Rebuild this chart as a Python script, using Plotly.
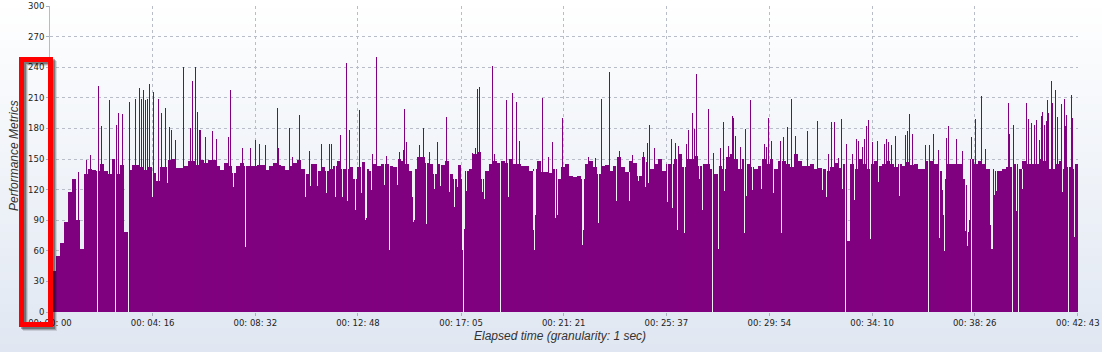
import plotly.graph_objects as go

# ---------------- data ----------------
tick_labels = ["00: 00: 00", "00: 04: 16", "00: 08: 32", "00: 12: 48", "00: 17: 05",
               "00: 21: 21", "00: 25: 37", "00: 29: 54", "00: 34: 10", "00: 38: 26",
               "00: 42: 43"]
y_ticks = [0, 30, 60, 90, 120, 150, 180, 210, 240, 270, 300]

base_step = 10  # seconds between base samples
base_values = [
    28, 40, 55, 68, 88, 118, 130, 90, 62, 135,
    140, 139, 138, 145, 138, 135, 150, 135, 144, 78,
    139, 144, 144, 142, 139, 142, 136, 128, 142, 142,
    149, 150, 141, 141, 143, 148, 148, 144, 149, 146,
    149, 149, 143, 139, 146, 143, 136, 143, 146, 143,
    143, 143, 144, 144, 139, 143, 146, 144, 143, 139,
    143, 146, 149,
    140, 135, 145, 145, 138, 142, 138, 140, 143, 148,
    140, 140, 142, 130, 142, 147, 140, 138, 145, 143,
    145, 145, 143, 142, 150, 148, 145, 138, 140, 152,
    152, 146, 145, 135, 145, 144, 148, 135, 130, 144,
    130, 138, 140, 155, 157, 130, 138, 145, 148, 146,
    148, 146, 150, 145, 145, 143, 143, 138, 140, 148,
    137, 137, 136, 140, 130,
    142, 145, 133, 132, 133, 130, 145, 148, 142, 135,
    143, 144, 138, 143, 152, 142, 137, 148, 146, 133,
    152, 147, 140, 145, 150, 138, 145, 145, 150, 155,
    142, 150, 150, 153, 143, 145, 145, 140, 135, 143,
    140, 152, 155, 150, 140, 150, 145, 142, 140, 143,
    150, 145, 150, 140, 148, 148, 145, 142, 155, 148,
    143, 143, 145, 140,
    141, 140, 138, 142, 146, 141, 145, 70, 145, 140,
    150, 145, 140, 145, 148, 143, 145, 148, 145, 142,
    145, 143, 147, 144, 145, 140, 140, 148, 148, 145,
    138, 130, 145, 145, 145, 145, 130, 125, 150, 145,
    148, 145, 140, 140, 138, 138, 140, 142, 142, 145,
    140, 148, 145, 145, 145, 150, 148, 140, 140, 145,
    148, 140, 142, 140, 145,
]

spike_times = [
    71, 91, 100, 121, 129, 148, 166, 170, 181, 198, 214, 223, 229, 233, 238, 243, 249,
    258, 271, 278, 287, 298, 303, 312, 333, 351, 356, 364, 367, 374, 387, 406, 416, 445,
    451, 479, 500, 513, 522, 537, 567, 569, 598, 605, 622,
    647, 676, 697, 703, 724, 739, 748, 771, 804, 814, 839, 871, 882, 885, 889, 921, 931,
    946, 967, 988, 1054, 1061, 1065, 1072, 1103, 1109, 1138, 1153, 1164, 1170, 1228,
    1242, 1252,
    1277, 1342, 1360, 1375, 1395, 1421, 1452, 1480, 1490, 1495, 1507, 1549, 1559, 1568,
    1588, 1593, 1603, 1608, 1613, 1643, 1654, 1672, 1679, 1691, 1701, 1704, 1709, 1721,
    1734, 1746, 1782, 1787, 1792, 1800, 1822, 1829, 1840, 1850, 1858, 1888, 1915,
    1941, 1949, 1957, 1967, 1973, 1986, 2000, 2010, 2017, 2025, 2032, 2037, 2042, 2050,
    2063, 2081, 2086, 2091, 2098, 2108, 2133, 2138, 2143, 2150, 2183, 2193, 2203, 2215,
    2235, 2240, 2260, 2275, 2299, 2307, 2322, 2324, 2334, 2390, 2392, 2402, 2435, 2440,
    2447, 2455, 2460, 2467, 2472, 2474, 2479, 2485, 2487, 2489, 2497, 2499, 2507, 2512,
    2522, 2529, 2532, 2534, 2547, 2549,
]
spike_values = [
    137, 149, 154, 222, 182, 208, 183, 195, 194, 206, 209, 220, 209, 218, 208, 209, 224,
    216, 209, 195, 200, 181, 178, 169, 240, 180, 226, 240, 196, 178, 172, 177, 170, 172,
    218, 161, 161, 169, 165, 164, 200, 161, 180, 152, 193,
    158, 165, 165, 165, 174, 244, 178, 198, 155, 250, 153, 157, 159, 199, 167, 164, 180,
    157, 167, 191, 156, 161, 219, 221, 241, 155, 208, 215, 206, 168, 210,
    152, 167,
    190, 152, 151, 209, 235, 158, 154, 157, 166, 183, 161, 170, 166, 163,
    165, 178, 195, 179, 233, 199, 156, 161, 186, 163, 192, 190, 173, 162,
    179, 208, 165, 162, 190, 168, 168, 172, 181, 209, 173, 177, 187,
    155, 186, 186, 151, 189, 165, 155, 170, 168, 162, 170, 182, 188, 167,
    168, 165, 170, 167, 164, 173, 174, 177, 194, 175, 164, 164, 175, 159,
    171, 182, 170, 158, 172, 189, 184, 212, 160, 205, 175, 183, 205, 189,
    185, 183, 188, 169, 192, 196, 183, 187, 208, 195, 226, 205, 218, 191,
    204, 209, 182, 193, 213, 190,
]

dip_times = [
    118, 164, 195, 255, 293, 457, 488,
    638, 650, 667, 689, 713, 729, 741, 761, 776, 786, 788, 790, 801, 835, 846, 866, 903,
    906, 908, 938, 958, 973, 997, 1008, 1015, 1028, 1031, 1033, 1039, 1079, 1083, 1123,
    1144, 1205, 1208, 1210, 1261, 1266,
    1328, 1330, 1367, 1412, 1444, 1467, 1485, 1493, 1541, 1552, 1565, 1583, 1619, 1627,
    1652, 1667, 1682, 1731, 1736, 1751, 1774, 1805, 1824,
    1926, 1936, 1976, 1983, 2007, 2047, 2066, 2118, 2190, 2218, 2225, 2228, 2230, 2284,
    2287, 2289, 2291, 2293, 2297, 2345, 2347, 2349, 2351, 2355, 2360, 2400, 2410, 2415,
    2425, 2524, 2539, 2554,
]
dip_values = [
    0, 0, 0, 113, 126, 123, 64,
    113, 124, 124, 117, 113, 113, 109, 100, 117, 90, 92, 98, 120, 125, 61, 125, 113,
    88, 90, 86, 121, 124, 118, 103, 123, 61, 0, 81, 119, 118, 111, 0,
    113, 80, 61, 95, 92, 95,
    66, 80, 87, 109, 109, 128, 123, 126, 108, 102, 80, 77, 130, 100,
    0, 62, 119, 77, 114, 120, 121, 117, 77,
    120, 113, 121, 0, 110, 72, 127, 114, 0, 73, 120, 95, 60, 79,
    106, 65, 78, 90, 0, 85, 70, 62, 75, 115, 119, 0, 99, 0,
    121, 118, 0, 74,
]

# ---------------- derived positions ----------------
def to_sec(lbl):
    h, m, s = [int(p.strip()) for p in lbl.split(":")]
    return h * 3600 + m * 60 + s

tick_vals = [to_sec(l) for l in tick_labels]
t_end = tick_vals[-1]
base_times = [i * base_step for i in range(len(base_values))]

dip_x, dip_base, dip_h = [], [], []
for t, v in zip(dip_times, dip_values):
    idx = min(int(round(t / base_step)), len(base_values) - 1)
    top = base_values[idx]
    if top > v:
        dip_x.append(t)
        dip_base.append(v)
        dip_h.append(top - v)

# alpha slightly below 1 makes plotly snap bar edges to whole pixels
PURPLE = "rgba(128,0,128,0.995)"

fig = go.Figure()
fig.add_trace(go.Bar(x=base_times, y=base_values, width=base_step,
                     marker=dict(color=PURPLE, line=dict(width=0)), hoverinfo="skip"))
fig.add_trace(go.Bar(x=spike_times, y=spike_values, width=2.6,
                     marker=dict(color=PURPLE, line=dict(width=0)), hoverinfo="skip"))
fig.add_trace(go.Bar(x=dip_x, y=dip_h, base=dip_base, width=2.6,
                     marker=dict(color="rgba(242,242,248,0.995)", line=dict(width=0)),
                     hoverinfo="skip"))

# ---------------- layout / styling ----------------
W, H = 1102, 352
L, R, T, B = 50, 24, 6, 40
pw, ph = W - L - R, H - T - B

def px_x(p):
    return (p - L) / pw

def px_y(p):
    return (H - B - p) / ph

shapes = []
# vertical background gradient (white -> light blue-grey)
N = 44
c0 = (255, 255, 255)
c1 = (224, 231, 242)
for i in range(N):
    f = (i + 0.5) / N
    col = tuple(int(round(c0[k] + (c1[k] - c0[k]) * f)) for k in range(3))
    y0p = i * H / N
    y1p = (i + 1) * H / N + 0.6
    shapes.append(dict(type="rect", xref="paper", yref="paper", layer="below",
                       x0=px_x(0), x1=px_x(W), y0=px_y(y1p), y1=px_y(y0p),
                       fillcolor="rgb(%d,%d,%d)" % col, line=dict(width=0)))

# red highlight frame with soft shadow
for off, alpha in [(4, 0.12), (3, 0.2), (2, 0.3)]:
    shapes.append(dict(type="rect", xref="paper", yref="paper", layer="above",
                       x0=px_x(21.5 + off), x1=px_x(50.5 + off),
                       y0=px_y(324.5 + off), y1=px_y(59.5 + off),
                       line=dict(color="rgba(0,0,0,%s)" % alpha, width=5)))
shapes.append(dict(type="rect", xref="paper", yref="paper", layer="above",
                   x0=px_x(21.5), x1=px_x(50.5), y0=px_y(324.5), y1=px_y(59.5),
                   line=dict(color="#ff0000", width=5)))

tickfont = dict(family="DejaVu Sans", size=8.5, color="#222222")
gridc = "#b9bdc8"

fig.update_layout(
    width=W, height=H,
    margin=dict(l=L, r=R, t=T, b=B, pad=0, autoexpand=False),
    paper_bgcolor="#ffffff",
    plot_bgcolor="rgba(0,0,0,0)",
    barmode="overlay", bargap=0,
    showlegend=False,
    shapes=shapes,
    xaxis=dict(range=[0, t_end + 0.5], tickmode="array", tickvals=tick_vals,
               ticktext=tick_labels, showgrid=True, gridcolor=gridc, griddash="3px,3px",
               gridwidth=1, ticks="outside", ticklen=3, tickcolor="#a8b0c0",
               tickfont=tickfont, zeroline=False, showline=False, automargin=False),
    yaxis=dict(range=[0, 300], tickmode="array", tickvals=y_ticks,
               showgrid=True, gridcolor=gridc, griddash="3px,3px", gridwidth=1,
               ticks="outside", ticklen=3, tickcolor="#a8b0c0", tickfont=tickfont,
               zeroline=False, showline=True, linecolor="#b4bccb", linewidth=1,
               automargin=False),
    annotations=[
        dict(text="Elapsed time (granularity: 1 sec)", xref="paper", yref="paper",
             x=px_x(560), y=px_y(336), showarrow=False, xanchor="center", yanchor="middle",
             font=dict(family="Liberation Sans", size=12, color="#333333", style="italic")),
        dict(text="Performance Metrics", xref="paper", yref="paper",
             x=px_x(14), y=px_y(156), showarrow=False, textangle=-90,
             xanchor="center", yanchor="middle",
             font=dict(family="Liberation Sans", size=12, color="#333333", style="italic")),
    ],
)

fig.write_html("out.html")
